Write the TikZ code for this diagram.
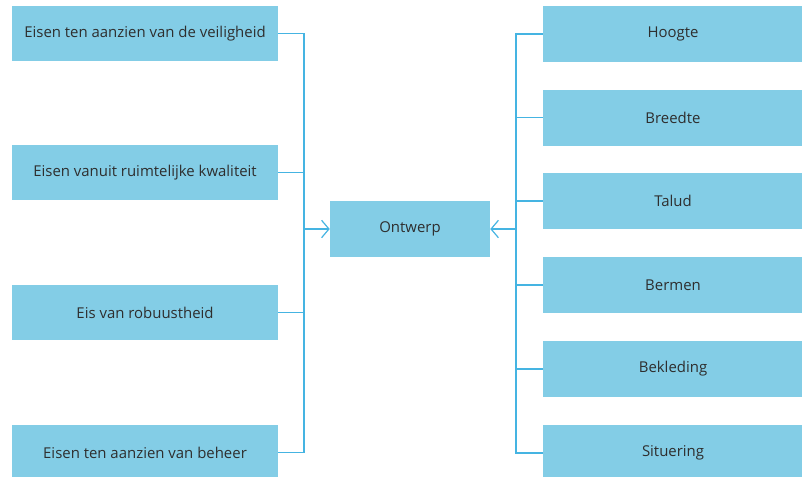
\documentclass[tikz,border=0pt]{standalone}
\usepackage{fontspec}
\setmainfont{Open Sans}
\usetikzlibrary{arrows.meta}
\definecolor{boxblue}{HTML}{83CDE6}
\definecolor{lineblue}{HTML}{45B4E2}
\definecolor{txt}{HTML}{2E2E2E}
\tikzset{
  bx/.style={fill=boxblue, draw=none, inner sep=0pt, font=\fontsize{11.2}{13}\selectfont, text=txt, anchor=center},
  conn/.style={draw=lineblue, line width=1.1pt},
  tip/.style={-{Straight Barb[length=5.5pt,width=13pt,line width=0.9pt]}}
}
\begin{document}
\begin{tikzpicture}[x=0.75pt,y=-0.75pt]
\useasboundingbox (0,0) rectangle (802,476);
% left boxes
\node[bx, minimum width=266*0.75pt, minimum height=55*0.75pt] (l1) at (145,33.5) {Eisen ten aanzien van de veiligheid};
\node[bx, minimum width=266*0.75pt, minimum height=55*0.75pt] (l2) at (145,172.5) {Eisen vanuit ruimtelijke kwaliteit};
\node[bx, minimum width=266*0.75pt, minimum height=55*0.75pt] (l3) at (145,312.5) {Eis van robuustheid};
\node[bx, minimum width=266*0.75pt, minimum height=55*0.75pt] (l4) at (145,452.5) {Eisen ten aanzien van beheer};
% center
\node[bx, minimum width=160*0.75pt, minimum height=56*0.75pt] (c) at (410,229) {Ontwerp};
% right boxes
\node[bx, minimum width=260*0.75pt, minimum height=56*0.75pt] (r1) at (673,34) {Hoogte};
\node[bx, minimum width=260*0.75pt, minimum height=56*0.75pt] (r2) at (673,117.5) {Breedte};
\node[bx, minimum width=260*0.75pt, minimum height=56*0.75pt] (r3) at (673,201) {Talud};
\node[bx, minimum width=260*0.75pt, minimum height=56*0.75pt] (r4) at (673,285) {Bermen};
\node[bx, minimum width=260*0.75pt, minimum height=56*0.75pt] (r5) at (673,369) {Bekleding};
\node[bx, minimum width=260*0.75pt, minimum height=56*0.75pt] (r6) at (673,453) {Situering};
% bus coordinates
\coordinate (lb) at (304,229);
\coordinate (rb) at (516,229);
% left connectors
\draw[conn] (l1.east) -| (lb);
\draw[conn] (l4.east) -| (lb);
\draw[conn] (l2.east) -- (l2.east -| lb);
\draw[conn] (l3.east) -- (l3.east -| lb);
\draw[conn,tip] (lb) -- (c.west);
% right connectors
\draw[conn] (r1.west) -| (rb);
\draw[conn] (r6.west) -| (rb);
\foreach \n in {r2,r3,r4,r5} \draw[conn] (\n.west) -- (\n.west -| rb);
\draw[conn,tip] (rb) -- (c.east);
\end{tikzpicture}
\end{document}
